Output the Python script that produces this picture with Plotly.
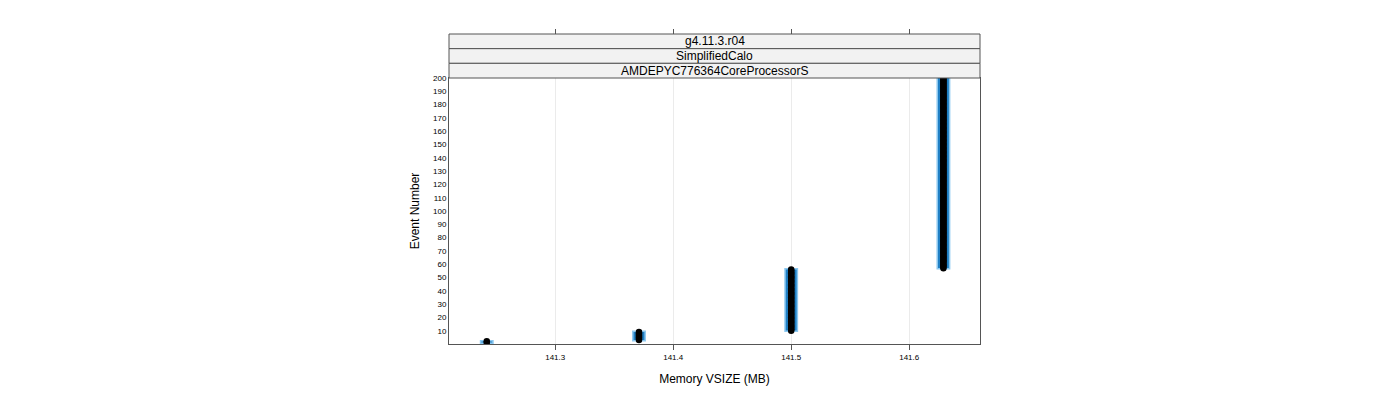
import plotly.graph_objects as go

# memory level (MB) and the event ranges that sit at each level
vsize_levels = [141.242, 141.371, 141.5, 141.629]
first_event = [1, 3, 10, 57]
last_event = [2, 9, 56, 200]

strip_labels = ["g4.11.3.r04", "SimplifiedCalo", "AMDEPYC776364CoreProcessorS"]
x_ticks = [141.3, 141.4, 141.5, 141.6]
y_ticks = list(range(10, 201, 10))

events = []
vsize = []
for lvl, a, b in zip(vsize_levels, first_event, last_event):
    for ev in range(a, b + 1):
        events.append(ev)
        vsize.append(lvl)

x_range = [141.210, 141.660]
plot_top = 266 / 310

fig = go.Figure()
# blue band behind each run of events
fig.add_trace(go.Bar(
    x=vsize_levels,
    y=[b - a + 1 for a, b in zip(first_event, last_event)],
    base=[a - 0.5 for a in first_event],
    width=0.0105,
    marker=dict(color="#1f7fc4", line=dict(color="#8cc8f0", width=1.5)),
    hoverinfo="skip", showlegend=False))
fig.add_trace(go.Scatter(
    x=vsize, y=events, mode="markers",
    marker=dict(symbol="circle", size=6.5, color="black"),
    showlegend=False))
# invisible trace to carry the top axis
fig.add_trace(go.Scatter(x=x_range, y=[0, 0], xaxis="x2", mode="none",
                         hoverinfo="skip", showlegend=False))

# strips
n = len(strip_labels)
h = (1 - plot_top) / n
for i, lab in enumerate(strip_labels):
    y0 = 1 - (i + 1) * h
    fig.add_shape(type="rect", xref="paper", yref="paper",
                  x0=0, x1=1, y0=y0, y1=y0 + h,
                  fillcolor="#f2f2f2", line=dict(color="#555555", width=1))
    fig.add_annotation(xref="paper", yref="paper", x=0.5, y=y0 + h / 2,
                       xanchor="center", yanchor="middle",
                       text=lab, showarrow=False,
                       font=dict(size=12, color="black"))

fig.update_layout(
    width=1400, height=400,
    margin=dict(l=441, r=428, t=26, b=64),
    paper_bgcolor="white", plot_bgcolor="white",
    font=dict(family="Liberation Sans, Arial, sans-serif", color="black"),
    xaxis=dict(range=x_range, tickvals=x_ticks,
               ticktext=[str(t) for t in x_ticks],
               ticks="outside", ticklen=5, tickcolor="#555555",
               tickfont=dict(size=8), showgrid=True, gridcolor="#ebebeb",
               showline=True, linecolor="#555555", mirror=True,
               zeroline=False,
               title=dict(text="Memory VSIZE (MB)", font=dict(size=12),
                          standoff=14)),
    xaxis2=dict(range=x_range, overlaying="x", side="top", anchor="free",
                position=1, tickvals=x_ticks, showticklabels=False,
                ticks="outside", ticklen=5, tickcolor="#555555",
                showgrid=False, showline=False, zeroline=False),
    yaxis=dict(range=[0, 200], domain=[0, plot_top], tickvals=y_ticks,
               tickfont=dict(size=8), ticks="", showgrid=False,
               showline=True, linecolor="#555555", mirror=True,
               zeroline=False,
               title=dict(text="Event Number", font=dict(size=12),
                          standoff=10)),
)

fig.write_html("out.html")
